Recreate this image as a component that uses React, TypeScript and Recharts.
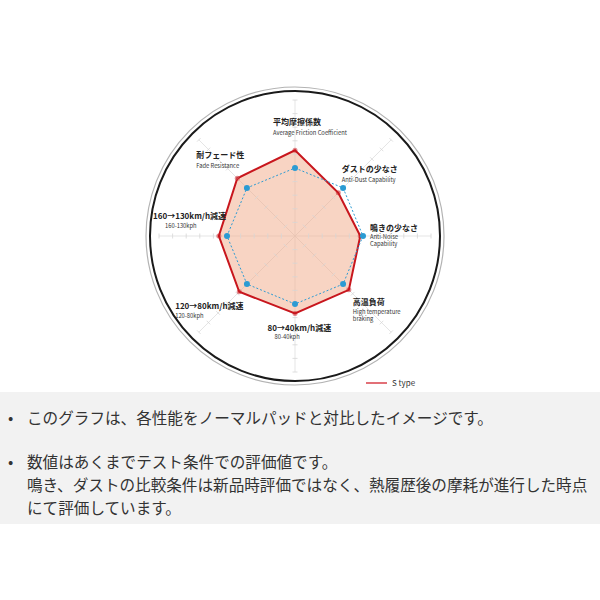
import React from "react";
import {
  RadarChart,
  Radar,
  PolarGrid,
  PolarAngleAxis,
  PolarRadiusAxis,
  Legend,
} from "recharts";

// Eight evaluation axes, clockwise from the top.
const AXES_JP = [
  "平均摩擦係数",
  "ダストの少なさ",
  "鳴きの少なさ",
  "高温負荷",
  "80→40km/h減速",
  "120→80km/h減速",
  "160→130km/h減速",
  "耐フェード性",
];
const AXES_EN = [
  ["Average Friction Coefficient"],
  ["Anti-Dust Capability"],
  ["Anti-Noise", "Capability"],
  ["High temperature", "braking"],
  ["80-40kph"],
  ["120-80kph"],
  ["160-130kph"],
  ["Fade Resistance"],
];

// S type vs. the normal pad (scale 0-10, normal pad = 5 everywhere)
const S_TYPE = [6.3, 4.5, 4.8, 5.6, 5.7, 5.8, 5.6, 6.0];
const NORMAL = [5, 5, 5, 5, 5, 5, 5, 5];

const SCALE_TICKS = [1, 2, 3, 4, 5, 6, 7, 8, 9, 10];
const SPOKE_ANGLES = [90, 45, 0, -45, -90, -135, 180, 135];

// label placement relative to the angle-axis tick point: [dx, dy, enDx, enLineGap]
const LABEL_OFFSETS: [number, number, number, number][] = [
  [-22, 32.5, 0, 10.5],
  [-55, 37.5, 0, 10],
  [-69, -5.5, 0, 8],
  [-44, -33, 0, 9],
  [-27.5, -49.5, 7, 8.5],
  [-18, -29, 0, 9],
  [2, -17, 12, 8.5],
  [3, 23.5, 0, 10],
];

const data = AXES_JP.map((name, i) => ({
  axis: name,
  sType: S_TYPE[i],
  normal: NORMAL[i],
}));

const FONT = '"Noto Sans CJK JP", "Noto Sans", sans-serif';
const RED = "#c8161d";
const BLUE = "#2b9bd3";

function AxisLabel(props: any) {
  const { x, y, index } = props;
  const [dx, dy, enDx, gap] = LABEL_OFFSETS[index];
  const lx = x + dx;
  const ly = y + dy;
  return (
    <g>
      <text x={lx} y={ly} fontSize={8} fontWeight={700} fill="#222" fontFamily={FONT}>
        {AXES_JP[index]}
      </text>
      {AXES_EN[index].map((line, j) => (
        <text
          key={j}
          x={lx + enDx}
          y={ly + gap + j * 7.5}
          fontSize={5.8}
          fill="#333"
          fontFamily={FONT}
        >
          {line}
        </text>
      ))}
    </g>
  );
}

const tickMark = (angle: number) => (props: any) => {
  const { x, y } = props;
  const rad = (angle * Math.PI) / 180;
  const px = Math.sin(rad) * 2.5;
  const py = Math.cos(rad) * 2.5;
  return <line x1={x - px} y1={y - py} x2={x + px} y2={y + py} stroke="#d6d6d6" strokeWidth={0.8} />;
};

function LegendContent() {
  return (
    <div style={{ display: "flex", alignItems: "center", fontFamily: FONT, fontSize: 8, color: "#333" }}>
      <svg width={22} height={4} style={{ marginRight: 4 }}>
        <line x1={0} y1={2} x2={21} y2={2} stroke="#d9414a" strokeWidth={1.5} />
      </svg>
      S type
    </div>
  );
}

export default function App() {
  return (
    <div style={{ position: "absolute", left: 0, top: 0, width: 600, height: 600, background: "#fff" }}>
      <RadarChart width={600} height={392} data={data} cx={295} cy={236} outerRadius={136} margin={{ top: 0, right: 0, bottom: 0, left: 0 }}>
        <PolarGrid gridType="circle" polarRadius={[149]} radialLines={false} stroke="#b3b3b3" strokeWidth={1.2} />
        <PolarGrid gridType="circle" polarRadius={[145]} radialLines={false} stroke="#1a1a1a" strokeWidth={2} />
        <PolarGrid gridType="polygon" polarRadius={[]} radialLines={true} stroke="#dedede" strokeWidth={0.8} />
        {SPOKE_ANGLES.map((angle, i) => (
          <PolarRadiusAxis
            key={i}
            radiusAxisId={i}
            angle={angle}
            type="number"
            domain={[0, 10]}
            allowDataOverflow
            ticks={SCALE_TICKS}
            axisLine={false}
            tick={tickMark(angle)}
          />
        ))}
        <PolarAngleAxis dataKey="axis" tick={<AxisLabel />} axisLine={false} tickLine={false} />
        <Radar
          name="S type"
          dataKey="sType"
          stroke={RED}
          strokeWidth={2}
          fill="#f2a987"
          fillOpacity={0.5}
          dot={{ r: 2.5, fill: RED, stroke: "none" }}
          isAnimationActive={false}
        />
        <Radar
          name="ノーマルパッド"
          dataKey="normal"
          stroke={BLUE}
          strokeWidth={1}
          strokeDasharray="2 2"
          fill="none"
          fillOpacity={0}
          dot={{ r: 3, fill: BLUE, fillOpacity: 1, stroke: "none", strokeDasharray: "0" }}
          legendType="none"
          isAnimationActive={false}
        />
        <Legend content={<LegendContent />} wrapperStyle={{ position: "absolute", left: 366, top: 377, width: 80 }} />
      </RadarChart>
      <div
        style={{
          position: "absolute",
          left: 0,
          top: 392,
          width: 600,
          height: 132,
          background: "#f2f2f2",
          fontFamily: FONT,
          fontSize: 15.6,
          color: "#333",
          whiteSpace: "nowrap",
        }}
      >
        <div style={{ position: "absolute", left: 8, top: 14, lineHeight: "23px" }}>
          <span style={{ display: "inline-block", width: 19 }}>•</span>
          このグラフは、各性能をノーマルパッドと対比したイメージです。
        </div>
        <div style={{ position: "absolute", left: 8, top: 58, lineHeight: "23px" }}>
          <div>
            <span style={{ display: "inline-block", width: 19 }}>•</span>
            数値はあくまでテスト条件での評価値です。
          </div>
          <div style={{ paddingLeft: 19 }}>
            鳴き、ダストの比較条件は新品時評価ではなく、熱履歴後の摩耗が進行した時点
          </div>
          <div style={{ paddingLeft: 19 }}>にて評価しています。</div>
        </div>
      </div>
    </div>
  );
}
